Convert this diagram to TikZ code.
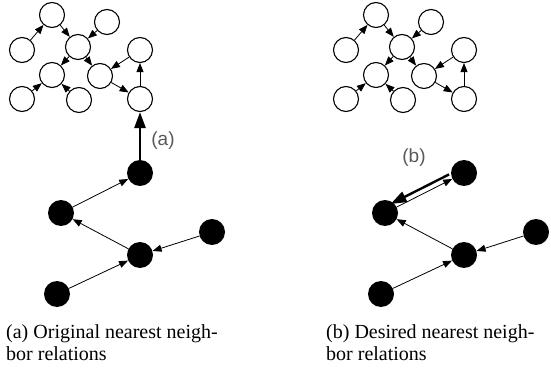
\documentclass[tikz,border=0pt]{standalone}
\usepackage{fontspec}
\setmainfont{Liberation Serif}
\setsansfont{Liberation Sans}
\usetikzlibrary{arrows.meta,calc}

\begin{document}
\begin{tikzpicture}[x=1pt,y=-1pt,
  open/.style={circle,draw,line width=1.1pt,minimum size=25pt,inner sep=0pt},
  solid/.style={circle,fill=black,minimum size=26pt,inner sep=0pt},
  rel/.style={line width=0.8pt,-{Triangle[length=9pt,width=7pt]}},
  bigrel/.style={line width=2.6pt,-{Triangle[length=16pt,width=11pt]}},
  tag/.style={font=\sffamily\fontsize{19}{19}\selectfont,text=black!65},
  caption/.style={font=\fontsize{20}{22}\selectfont,align=left,anchor=north west,inner sep=0pt}]

\useasboundingbox (0,0) rectangle (551,371);

\foreach \p/\dx in {a/0,b/324}{
  \begin{scope}[xshift=\dx]
    % upper graph of open nodes
    \node[open] (\p-t)  at (52,15)  {};
    \node[open] (\p-ur) at (107,22) {};
    \node[open] (\p-l)  at (22,50)  {};
    \node[open] (\p-c)  at (78,47)  {};
    \node[open] (\p-r)  at (140,50) {};
    \node[open] (\p-ml) at (52,75)  {};
    \node[open] (\p-mr) at (100,76) {};
    \node[open] (\p-bl) at (22,99)  {};
    \node[open] (\p-bm) at (79,100) {};
    \node[open] (\p-br) at (140,99) {};
    \draw[rel] (\p-l)  -- (\p-t);
    \draw[rel] (\p-t)  -- (\p-c);
    \draw[rel] (\p-ur) -- (\p-c);
    \draw[rel] (\p-c)  -- (\p-ml);
    \draw[rel] (\p-c)  -- (\p-mr);
    \draw[rel] (\p-bl) -- (\p-ml);
    \draw[rel] (\p-bm) -- (\p-ml);
    \draw[rel] (\p-r)  -- (\p-mr);
    \draw[rel] (\p-mr) -- (\p-br);
    \draw[rel] (\p-br) -- (\p-r);
    % lower graph of filled nodes
    \node[solid] (\p-1) at (140,173) {};
    \node[solid] (\p-2) at (61,213)  {};
    \node[solid] (\p-3) at (140,255) {};
    \node[solid] (\p-4) at (212,232) {};
    \node[solid] (\p-5) at (57,294)  {};
    \draw[rel] (\p-3) -- (\p-2);
    \draw[rel] (\p-4) -- (\p-3);
    \draw[rel] (\p-5) -- (\p-3);
  \end{scope}
}

% panel (a): link between the two graphs
\draw[rel] (a-2) -- (a-1);
\draw[bigrel] (a-1) -- (a-br);
\node[tag] (la) at (163,141) {(a)};

% panel (b): mutual relation
\coordinate (b-s) at ($(b-1)!5.5pt!-90:(b-2)$);
\coordinate (b-e) at ($(b-2)!5.5pt!90:(b-1)$);
\draw[bigrel,line width=2.4pt,shorten <=14pt,shorten >=9pt] (b-s) -- (b-e);
\draw[rel,shorten <=0pt] (b-2) -- (b-1);
\node[tag] (lb) at (414,158) {(b)};

% captions
\node[caption] (ca) at (6,324) {(a) Original nearest neigh-\\bor relations};
\node[caption] (cb) at (326,324) {(b) Desired nearest neigh-\\bor relations};
\end{tikzpicture}
\end{document}
